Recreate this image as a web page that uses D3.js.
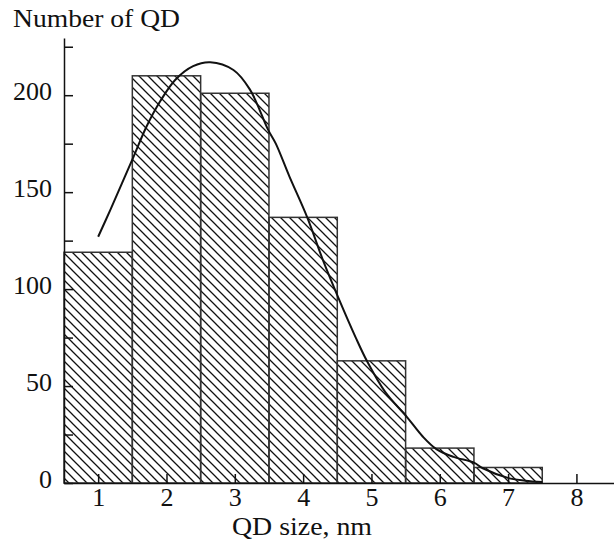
<!DOCTYPE html>
<html>
<head>
<meta charset="utf-8">
<script src="https://cdn.jsdelivr.net/npm/d3@7"></script>
<style>
  body { margin: 0; background: #fff; }
  svg { display: block; }
  text { font-family: "Liberation Serif", "Times New Roman", serif; fill: #111; }
</style>
</head>
<body>
<svg width="614" height="539"></svg>
<script>
// histogram bins (QD size, nm) and counts
var sizes = [1, 2, 3, 4, 5, 6, 7];
var counts = [119, 210, 201, 137, 63, 18, 8];

// fitted curve
var fitX = [1.0, 1.18, 1.49, 1.71, 1.91, 2.13, 2.39, 2.64, 2.98, 3.22, 3.49, 3.6, 3.8, 4.06, 4.3, 4.51, 4.77, 4.94, 5.2, 5.52, 5.75, 5.95, 6.2, 6.5, 6.63, 7.02, 7.25, 7.5];
var fitY = [127, 141, 166, 184, 197, 208, 215, 217, 213, 203, 182, 175, 158, 137, 114, 96, 75, 62.5, 47, 34, 24, 17.5, 13.5, 10.5, 7.6, 2.4, 1.2, 0.5];

var xTicks = [1, 2, 3, 4, 5, 6, 7, 8];
var yTicks = [0, 25, 50, 75, 100, 125, 150, 175, 200, 225];

var svg = d3.select('svg');

var x = d3.scaleLinear().domain([0.5, 8.55]).range([64, 614]);
var y = d3.scaleLinear().domain([0, 229.5]).range([483, 38]);

// diagonal hatch "\\\"
var s = 9;
svg.append('defs').append('pattern')
    .attr('id', 'hatch')
    .attr('patternUnits', 'userSpaceOnUse')
    .attr('width', s).attr('height', s)
  .append('path')
    .attr('d', 'M0,0L' + s + ',' + s + 'M' + (-s / 2) + ',' + (s / 2) + 'L' + (s / 2) + ',' + (s * 1.5) +
               'M' + (s / 2) + ',' + (-s / 2) + 'L' + (s * 1.5) + ',' + (s / 2))
    .attr('stroke', '#111')
    .attr('stroke-width', 1.3);

svg.append('g').selectAll('rect')
    .data(sizes)
    .enter().append('rect')
    .attr('x', d => x(d - 0.5))
    .attr('width', d => x(d + 0.5) - x(d - 0.5))
    .attr('y', (d, i) => y(counts[i]))
    .attr('height', (d, i) => y(0) - y(counts[i]))
    .attr('fill', 'url(#hatch)')
    .attr('stroke', '#333')
    .attr('stroke-width', 1.5);

var line = d3.line()
    .x(d => x(d[0]))
    .y(d => y(d[1]))
    .curve(d3.curveCatmullRom);

svg.append('path')
    .datum(fitX.map((v, i) => [v, fitY[i]]))
    .attr('d', line)
    .attr('fill', 'none')
    .attr('stroke', '#111')
    .attr('stroke-width', 2);

var xAxis = svg.append('g')
    .attr('transform', 'translate(0,' + y(0) + ')')
    .call(d3.axisBottom(x).tickValues(xTicks).tickSizeInner(-9).tickSizeOuter(0).tickPadding(5));

var yAxis = svg.append('g')
    .attr('transform', 'translate(' + x(0.5) + ',0)')
    .call(d3.axisLeft(y).tickValues(yTicks).tickSizeInner(-9).tickSizeOuter(0).tickPadding(12)
        .tickFormat(d => d % 50 === 0 ? d : ''));

[xAxis, yAxis].forEach(g => {
    g.selectAll('path, line').attr('stroke', '#111').attr('stroke-width', 1.5);
    g.selectAll('text').style('font-family', '"Liberation Serif", serif').style('font-size', '26px').attr('fill', '#111');
});
yAxis.selectAll('text').attr('dy', '0.17em');

svg.append('text')
    .attr('x', 13).attr('y', 27)
    .style('font-size', '26px')
    .attr('textLength', 167)
    .attr('lengthAdjust', 'spacingAndGlyphs')
    .text('Number of QD');

svg.append('text')
    .attr('x', 232).attr('y', 535)
    .style('font-size', '25px')
    .attr('textLength', 140)
    .attr('lengthAdjust', 'spacingAndGlyphs')
    .text('QD size, nm');
</script>
</body>
</html>
